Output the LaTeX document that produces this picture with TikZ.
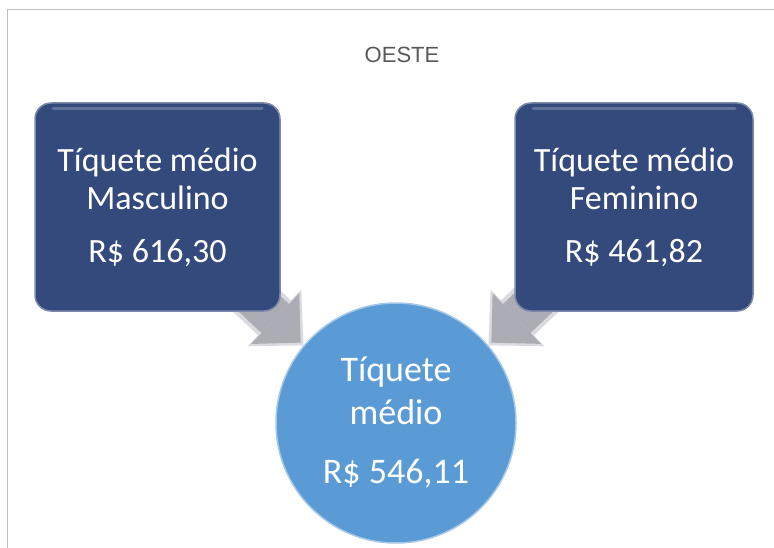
\documentclass[tikz,border=0pt]{standalone}
\usepackage{fontspec}
\setmainfont{Carlito}
\newfontfamily\titulofont{Liberation Sans}
\usetikzlibrary{arrows.meta,backgrounds}
\definecolor{azulesc}{RGB}{53,74,124}
\definecolor{azulcla}{RGB}{91,155,213}
\definecolor{cinzaseta}{RGB}{172,172,180}
\definecolor{cinzaborda}{RGB}{218,218,224}
\definecolor{cinzatit}{RGB}{89,89,89}

\begin{document}
\begin{tikzpicture}[x=1pt, y=-1pt,
    caixa/.style={draw=azulesc!65!white, fill=azulesc, line width=1.5pt, rectangle, rounded corners=16pt,
      minimum height=208pt, text=white, align=center, font=\fontsize{34}{38}\selectfont,
      path picture={\draw[azulesc!78!white, line width=3pt, line cap=round]
        ([xshift=18pt,yshift=-6pt]path picture bounding box.north west) --
        ([xshift=-18pt,yshift=-6pt]path picture bounding box.north east);}},
    seta/.style={-{Triangle[width=78pt,length=40pt,line width=0pt]}, line width=48pt, draw=cinzaborda},
    setamiolo/.style={-{Triangle[width=70pt,length=35pt,line width=0pt]}, line width=40pt, draw=cinzaseta, shorten >=4pt}]
\useasboundingbox (0,0) rectangle (774,548);
\draw[line width=1.5pt, gray!50] (7.5,548) -- (7.5,9.5) -- (774,9.5);
\node[text=cinzatit, font=\titulofont\fontsize{22}{26}\selectfont] (titulo) at (402,55) {OESTE};
\node[caixa, minimum width=245pt] (masc) at (157.5,207) {Tíquete médio\\Masculino\\[15pt]R\$ 616,30};
\node[caixa, minimum width=238pt] (fem) at (634,207) {Tíquete médio\\Feminino\\[15pt]R\$ 461,82};
\node[circle, draw=azulcla!55!white, fill=azulcla, line width=1.5pt, minimum size=240pt, text=white,
  align=center, font=\fontsize{36}{43}\selectfont] (media) at (396,423) {Tíquete\\médio\\[16pt]R\$ 546,11};
% setas por baixo das caixas
\begin{scope}[on background layer]
\draw[seta] (masc.center) -- (media.140);
\draw[setamiolo] (masc.center) -- (media.140);
\draw[seta] (fem.center) -- (media.40);
\draw[setamiolo] (fem.center) -- (media.40);
\end{scope}
\end{tikzpicture}
\end{document}
